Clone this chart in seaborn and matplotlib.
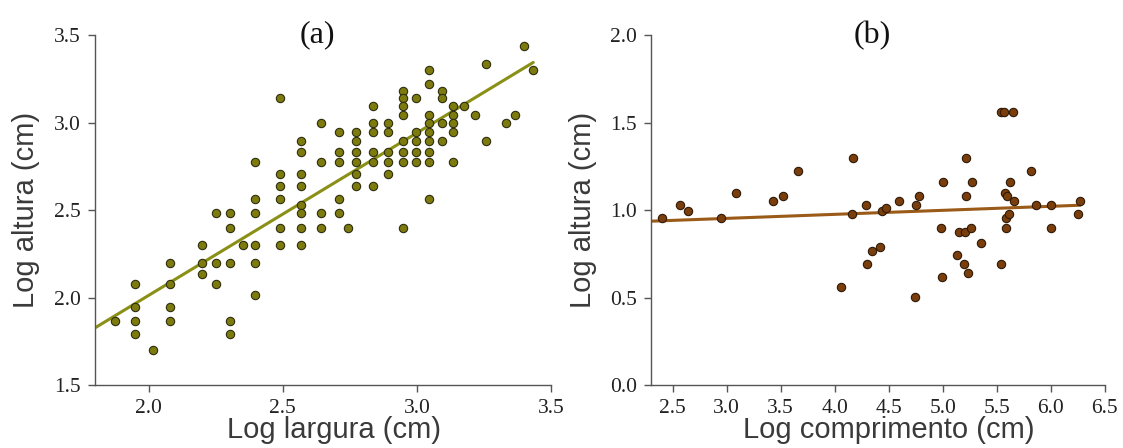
import numpy as np
import pandas as pd
import matplotlib
matplotlib.use("Agg")
import matplotlib.pyplot as plt
import seaborn as sns

# (a) Log largura vs Log altura
largura = [1.874,
           1.948, 1.948, 1.948, 1.948,
           2.017,
           2.081, 2.081, 2.081, 2.081,
           2.198, 2.198, 2.198,
           2.251, 2.251, 2.251,
           2.305, 2.305, 2.305, 2.305, 2.305,
           2.352,
           2.398, 2.398, 2.398, 2.398, 2.398, 2.398,
           2.488, 2.488, 2.488, 2.488, 2.488, 2.488,
           2.568, 2.568, 2.568, 2.568, 2.568, 2.568, 2.568, 2.568,
           2.641, 2.641, 2.641, 2.641,
           2.710, 2.710, 2.710, 2.710, 2.710,
           2.742,
           2.773, 2.773, 2.773, 2.773, 2.773, 2.773,
           2.835, 2.835, 2.835, 2.835, 2.835, 2.835,
           2.891, 2.891, 2.891, 2.891, 2.891,
           2.947, 2.947, 2.947, 2.947, 2.947, 2.947, 2.947, 2.947,
           2.995, 2.995, 2.995, 2.995, 2.995,
           3.045, 3.045, 3.045, 3.045, 3.045, 3.045, 3.045, 3.045, 3.045,
           3.092, 3.092, 3.092, 3.092,
           3.136, 3.136, 3.136, 3.136, 3.136,
           3.177, 3.218, 3.258, 3.258, 3.331, 3.366, 3.400, 3.434]
altura_a = [1.868,
            2.078, 1.944, 1.868, 1.789,
            1.701,
            2.198, 2.078, 1.944, 1.868,
            2.302, 2.198, 2.137,
            2.485, 2.198, 2.078,
            2.485, 2.399, 2.198, 1.868, 1.789,
            2.302,
            2.774, 2.566, 2.485, 2.302, 2.198, 2.013,
            3.140, 2.709, 2.637, 2.566, 2.399, 2.302,
            2.892, 2.833, 2.709, 2.637, 2.527, 2.485, 2.399, 2.302,
            2.999, 2.774, 2.485, 2.399,
            2.944, 2.833, 2.774, 2.566, 2.485,
            2.399,
            2.944, 2.892, 2.833, 2.774, 2.709, 2.637,
            3.093, 2.999, 2.944, 2.833, 2.774, 2.637,
            2.999, 2.944, 2.833, 2.774, 2.709,
            3.181, 3.140, 3.093, 3.046, 2.892, 2.833, 2.774, 2.399,
            3.140, 2.944, 2.892, 2.833, 2.774,
            3.299, 3.221, 3.046, 2.999, 2.944, 2.892, 2.833, 2.774, 2.566,
            3.181, 3.140, 2.999, 2.892,
            3.093, 3.046, 2.999, 2.944, 2.774,
            3.093, 3.046, 3.335, 2.892, 2.999, 3.046, 3.437, 3.299]

# (b) Log comprimento vs Log altura
comprimento = [2.400, 2.566, 2.639, 2.945, 3.088, 3.433, 3.526, 3.659,
               4.061, 4.157, 4.174, 4.290, 4.303, 4.343, 4.420, 4.443,
               4.479, 4.596, 4.745, 4.752, 4.778, 4.984, 4.991, 5.007,
               5.130, 5.150, 5.200, 5.210, 5.217, 5.220, 5.233, 5.260,
               5.276, 5.359, 5.542, 5.542, 5.565, 5.648, 5.575, 5.592,
               5.585, 5.588, 5.615, 5.622, 5.658, 5.818, 5.861, 6.007,
               6.000, 6.250, 6.273]
altura_b = [0.957, 1.030, 0.992, 0.957, 1.100, 1.049, 1.083, 1.224,
            0.561, 0.976, 1.295, 1.030, 0.693, 0.766, 0.791, 0.994,
            1.014, 1.049, 0.502, 1.030, 1.083, 0.898, 0.616, 1.163,
            0.744, 0.876, 0.693, 0.876, 1.083, 1.295, 0.642, 0.898,
            1.163, 0.811, 0.693, 1.559, 1.559, 1.559, 1.100, 1.079,
            0.957, 0.898, 0.976, 1.163, 1.049, 1.224, 1.030, 1.030,
            0.898, 0.976, 1.049]

xticks_a = [2.0, 2.5, 3.0, 3.5]
yticks_a = [1.5, 2.0, 2.5, 3.0, 3.5]
xticks_b = [2.5, 3.0, 3.5, 4.0, 4.5, 5.0, 5.5, 6.0, 6.5]
yticks_b = [0.0, 0.5, 1.0, 1.5, 2.0]

sns.set_theme(style="ticks")
plt.rcParams["font.family"] = ["Liberation Serif", "DejaVu Serif"]

fig = plt.figure(figsize=(11.23, 4.48), dpi=100)
ax_a = fig.add_axes([0.0846, 0.1406, 0.406, 0.781])
ax_b = fig.add_axes([0.5797, 0.1406, 0.404, 0.781])

label_font = dict(family=["Liberation Sans", "DejaVu Sans"], size=21,
                  color="#3a3a3a")


def panel(ax, x, y, xlim, ylim, xticks, yticks, face, edge, line_color,
          xlabel, tag):
    df = pd.DataFrame({"x": x, "y": y})
    ax.set_xlim(*xlim)
    ax.set_ylim(*ylim)
    sns.scatterplot(data=df, x="x", y="y", ax=ax, s=36, color=face,
                    edgecolor=edge, linewidth=0.8, zorder=3, legend=False)
    slope, intercept = np.polyfit(df["x"], df["y"], 1)
    xs = np.array([xlim[0], df["x"].max()])
    sns.lineplot(x=xs, y=intercept + slope * xs, ax=ax, color=line_color,
                 linewidth=2.2, zorder=2)
    ax.set_xlim(*xlim)
    ax.set_ylim(*ylim)
    ax.set_xticks(xticks)
    ax.set_yticks(yticks)
    ax.set_xticklabels([f"{t:.1f}" for t in xticks])
    ax.set_yticklabels([f"{t:.1f}" for t in yticks])
    ax.tick_params(axis="both", labelsize=15.5, colors="#222222",
                   length=5, width=1.0, direction="out", color="#555555")
    ax.tick_params(axis="x", pad=5)
    ax.tick_params(axis="y", pad=5)
    for side in ("top", "right"):
        ax.spines[side].set_visible(False)
    for side in ("left", "bottom"):
        ax.spines[side].set_color("#555555")
        ax.spines[side].set_linewidth(1.0)
    ax.set_xlabel(xlabel, **label_font)
    ax.set_ylabel("Log altura (cm)", **label_font)
    ax.xaxis.set_label_coords(0.524, -0.088)
    ax.yaxis.set_label_coords(-0.12, 0.5)
    ax.text(0.487, 1.0, tag, transform=ax.transAxes, ha="center",
            va="center", fontsize=23, color="#111111")


panel(ax_a, largura, altura_a, (1.8, 3.5), (1.5, 3.5), xticks_a, yticks_a,
      "#7d7a0e", "#2e2e10", "#8a9016", "Log largura (cm)", "(a)")
panel(ax_b, comprimento, altura_b, (2.3, 6.5), (0.0, 2.0), xticks_b, yticks_b,
      "#7a3d0c", "#2e1a08", "#9a5a18", "Log comprimento (cm)", "(b)")

fig.savefig("out.png", dpi=100)
